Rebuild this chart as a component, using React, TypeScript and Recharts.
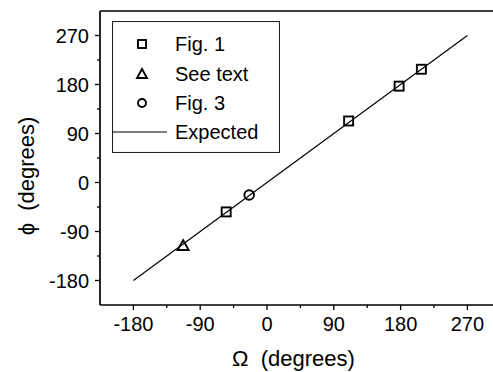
import React from 'react';
import { ScatterChart, Scatter, XAxis, YAxis, ReferenceLine, Legend } from 'recharts';

const fig1 = [
  { x: -55, y: -54 },
  { x: 110, y: 113 },
  { x: 178, y: 177 },
  { x: 208, y: 208 },
];
const seeText = [{ x: -113, y: -115 }];
const fig3 = [{ x: -24, y: -23 }];
const expected = [
  { x: -180, y: -180 },
  { x: 270, y: 270 },
];

const majorTicks = [-180, -90, 0, 90, 180, 270];
const minorTicks = [-135, -45, 45, 135, 225];
const allTicks = [...majorTicks, ...minorTicks].sort((a, b) => a - b);

const seriesNames = ['Fig. 1', 'See text', 'Fig. 3', 'Expected'];
const xLabel = 'Ω\u00a0 (degrees)';
const yLabel = 'ϕ\u00a0 (degrees)';

const FONT = 'Liberation Sans, Arial, Helvetica, sans-serif';
const INK = '#000';

const SquareMark = ({ cx, cy, size = 9 }: any) => (
  <rect x={cx - size / 2} y={cy - size / 2} width={size} height={size} fill="none" stroke={INK} strokeWidth={1.9} />
);
const TriangleMark = ({ cx, cy, size = 11 }: any) => {
  const h = size * 0.9;
  return (
    <polygon
      points={`${cx - size / 2},${cy + h / 2} ${cx + size / 2},${cy + h / 2} ${cx},${cy - h / 2}`}
      fill="none"
      stroke={INK}
      strokeWidth={1.9}
      strokeLinejoin="miter"
    />
  );
};
const CircleMark = ({ cx, cy, r = 4.8 }: any) => (
  <circle cx={cx} cy={cy} r={r} fill="none" stroke={INK} strokeWidth={1.9} />
);

const YTick = ({ x, y, payload }: any) => {
  const major = majorTicks.includes(payload.value);
  return (
    <g>
      <line x1={x - (major ? 5 : 3)} x2={x} y1={y} y2={y} stroke={INK} strokeWidth={1.3} />
      {major && (
        <text x={x - 11} y={y} dy="0.36em" textAnchor="end" fontSize={20} fontFamily={FONT} fill={INK}>
          {payload.value}
        </text>
      )}
    </g>
  );
};

const XTick = ({ x, y, payload }: any) => {
  const major = majorTicks.includes(payload.value);
  return (
    <g>
      <line x1={x} x2={x} y1={y} y2={y + (major ? 5 : 3)} stroke={INK} strokeWidth={1.3} />
      {major && (
        <text x={x} y={y + 26} textAnchor="middle" fontSize={20} fontFamily={FONT} fill={INK}>
          {payload.value}
        </text>
      )}
    </g>
  );
};

const LegendBox = () => {
  const rowY = [23, 52.5, 82, 111];
  return (
    <svg width={168} height={132} style={{ display: 'block', background: '#fff' }}>
      <rect x={0.5} y={0.5} width={167} height={131} fill="#fff" stroke="#222" strokeWidth={1.1} />
      <SquareMark cx={30} cy={rowY[0]} size={8} />
      <TriangleMark cx={30} cy={rowY[1]} size={10} />
      <CircleMark cx={30} cy={rowY[2]} r={4} />
      <line x1={0} x2={55} y1={rowY[3]} y2={rowY[3]} stroke={INK} strokeWidth={1.2} />
      {seriesNames.map((n, i) => (
        <text key={n} x={63} y={rowY[i]} dy="0.36em" fontSize={20} fontFamily={FONT} fill={INK}>
          {n}
        </text>
      ))}
    </svg>
  );
};

export default function App() {
  return (
    <div style={{ position: 'absolute', left: 0, top: 0, width: 493, height: 372, background: '#fff' }}>
      <ScatterChart width={493} height={372} margin={{ top: 11, right: 0, left: 0, bottom: 0 }}>
        <XAxis
          type="number"
          dataKey="x"
          domain={[-225, 304.5]}
          allowDataOverflow
          ticks={allTicks}
          interval={0}
          tickSize={0}
          tickMargin={0}
          tickLine={false}
          tick={<XTick />}
          height={67}
          axisLine={{ stroke: INK, strokeWidth: 1.7 }}
          label={{
            content: ({ viewBox }: any) => (
              <text
                x={viewBox.x + viewBox.width / 2 - 3}
                y={viewBox.y + viewBox.height - 6}
                textAnchor="middle"
                fontSize={22}
                fontFamily={FONT}
                fill={INK}
              >
                {xLabel}
              </text>
            ),
          }}
        />
        <YAxis
          type="number"
          dataKey="y"
          domain={[-225, 315]}
          allowDataOverflow
          ticks={allTicks}
          interval={0}
          tickSize={0}
          tickMargin={0}
          tickLine={false}
          tick={<YTick />}
          width={100}
          axisLine={{ stroke: INK, strokeWidth: 1.7 }}
          label={{
            content: ({ viewBox }: any) => {
              const cx = viewBox.x + 34;
              const cy = viewBox.y + viewBox.height / 2 + 18;
              return (
                <text
                  x={cx}
                  y={cy}
                  transform={`rotate(-90, ${cx}, ${cy})`}
                  textAnchor="middle"
                  fontSize={22}
                  fontFamily={FONT}
                  fill={INK}
                >
                  {yLabel}
                </text>
              );
            },
          }}
        />
        <ReferenceLine y={315} stroke={INK} strokeWidth={1.7} />
        <Scatter
          name={seriesNames[3]}
          data={expected}
          line={{ stroke: INK, strokeWidth: 1.2 }}
          shape={() => <g />}
          isAnimationActive={false}
        />
        <Scatter name={seriesNames[0]} data={fig1} shape={(p: any) => <SquareMark cx={p.cx} cy={p.cy} />} isAnimationActive={false} />
        <Scatter name={seriesNames[1]} data={seeText} shape={(p: any) => <TriangleMark cx={p.cx} cy={p.cy} />} isAnimationActive={false} />
        <Scatter name={seriesNames[2]} data={fig3} shape={(p: any) => <CircleMark cx={p.cx} cy={p.cy} />} isAnimationActive={false} />
        <Legend
          layout="horizontal"
          verticalAlign="middle"
          align="center"
          width={168}
          height={132}
          wrapperStyle={{ left: 112, top: 21, width: 168, height: 132 }}
          content={() => <LegendBox />}
        />
      </ScatterChart>
    </div>
  );
}
